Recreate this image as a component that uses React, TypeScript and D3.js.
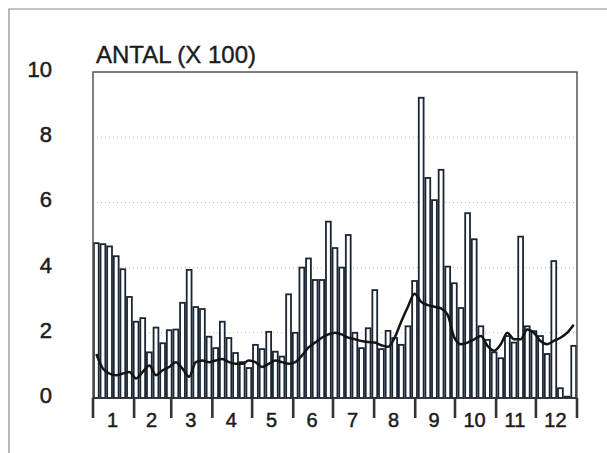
import { useEffect, useRef } from "react"
import * as d3 from "d3"

// five-day periods, 73 per year (ANTAL x 100)
const periodValues = [
  4.75, 4.72, 4.65, 4.35, 3.95, 3.1,
  2.34, 2.45, 1.4, 2.16, 1.68, 2.08,
  2.1, 2.92, 3.93, 2.79, 2.73, 1.88,
  1.53, 2.34, 1.84, 1.38, 1.1, 0.92,
  1.63, 1.5, 2.03, 1.42, 1.27, 3.18,
  2.0, 4.0, 4.28, 3.62, 3.62, 5.41,
  4.6, 4.0, 5.0, 2.0, 1.53, 2.14,
  3.31, 1.5, 2.06, 1.84, 1.63, 2.2,
  3.59, 9.21, 6.75, 6.07, 7.0, 4.03,
  3.52, 2.76, 5.67, 4.87, 2.2, 1.78,
  1.4, 1.22, 1.9, 1.7, 4.95, 2.2,
  2.05, 1.9, 1.35, 4.2, 0.3, 0.04,
  1.6,
]

// smoothed line
const averageValues = [
  1.35, 0.9, 0.75, 0.7, 0.75, 0.8,
  0.6, 0.8, 1.0, 0.7, 0.85, 0.95,
  1.1, 0.9, 0.65, 1.1, 1.15, 1.1,
  1.15, 1.2, 1.1, 1.05, 1.05, 1.15,
  1.1, 0.95, 1.05, 1.15, 1.1, 1.05,
  1.1, 1.3, 1.55, 1.7, 1.85, 1.95,
  2.0, 1.95, 1.85, 1.8, 1.75, 1.72,
  1.7, 1.62, 1.57, 1.85, 2.35, 2.8,
  3.2, 2.95, 2.85, 2.8, 2.75, 2.55,
  1.85, 1.65, 1.7, 1.8, 1.9, 1.6,
  1.45, 1.65, 2.0, 1.8, 1.8, 2.1,
  2.0, 1.75, 1.65, 1.75, 1.85, 2.0,
  2.25,
]

const monthLabels = ["1", "2", "3", "4", "5", "6", "7", "8", "9", "10", "11", "12"]
const monthStartDays = [0, 31, 59, 90, 120, 151, 181, 212, 243, 273, 304, 334, 365]
const yTicks = [0, 2, 4, 6, 8, 10]
const gridTicks = [2, 4, 6, 8]
const title = "ANTAL (X 100)"

const W = 607
const H = 453

const App = () => {
  const ref = useRef(null)

  useEffect(() => {
    const svg = d3.select(ref.current)
    svg.selectAll("*").remove()

    const left = 93, right = 577, top = 72, bottom = 398
    const x = d3.scaleLinear().domain([0, 365]).range([left, right])
    const y = d3.scaleLinear().domain([0, 10]).range([bottom, top])
    const font = "'Liberation Sans', Arial, Helvetica, sans-serif"
    const ink = "#1a2634"
    const textInk = "#1c1c1c"

    svg.append("rect").attr("width", W).attr("height", H).attr("fill", "#fff")

    // outer frame of the scanned page
    svg.append("path")
      .attr("d", `M9,${H} L9,9 L${W},9`)
      .attr("fill", "none").attr("stroke", "#8a8a8a").attr("stroke-width", 1.2)

    // grid
    svg.append("g").selectAll("line").data(gridTicks).join("line")
      .attr("x1", left).attr("x2", right)
      .attr("y1", d => y(d)).attr("y2", d => y(d))
      .attr("stroke", "#b8b8b8").attr("stroke-width", 1).attr("stroke-dasharray", "1,3")

    // bars
    const pad = 0.9
    svg.append("g").selectAll("rect").data(periodValues).join("rect")
      .attr("x", (d, i) => x(i * 5) + pad)
      .attr("y", d => y(d))
      .attr("width", (d, i) => x((i + 1) * 5) - x(i * 5) - pad * 2)
      .attr("height", d => y(0) - y(d))
      .attr("fill", "#fff")
      .attr("stroke", ink)
      .attr("stroke-width", 1.8)

    // average line
    const line = d3.line<number>()
      .x((d, i) => x(i * 5 + 2.5))
      .y(d => y(d))
      .curve(d3.curveMonotoneX)
    svg.append("path")
      .attr("d", line(averageValues))
      .attr("fill", "none")
      .attr("stroke", "#141414")
      .attr("stroke-width", 2.5)

    // plot frame
    svg.append("path")
      .attr("d", `M${left},${bottom} L${left},${top} L${right},${top} L${right},${bottom}`)
      .attr("fill", "none").attr("stroke", "#555").attr("stroke-width", 1.5)
    svg.append("line")
      .attr("x1", left).attr("x2", right).attr("y1", bottom).attr("y2", bottom)
      .attr("stroke", "#333").attr("stroke-width", 1.5)

    // month ticks
    svg.append("g").selectAll("line").data(monthStartDays).join("line")
      .attr("x1", d => x(d)).attr("x2", d => x(d))
      .attr("y1", bottom).attr("y2", bottom + 20)
      .attr("stroke", "#333").attr("stroke-width", 2.6)

    svg.append("g").selectAll("text").data(monthLabels).join("text")
      .attr("x", (d, i) => (x(monthStartDays[i]) + x(monthStartDays[i + 1])) / 2 - 1)
      .attr("y", bottom + 29)
      .attr("text-anchor", "middle")
      .attr("font-family", font).attr("font-size", 20)
      .attr("fill", textInk).attr("stroke", textInk).attr("stroke-width", 0.5)
      .text(d => d)

    // y labels
    svg.append("g").selectAll("text").data(yTicks).join("text")
      .attr("x", 52)
      .attr("y", d => y(d) + 5)
      .attr("text-anchor", "end")
      .attr("font-family", font).attr("font-size", 22)
      .attr("fill", textInk).attr("stroke", textInk).attr("stroke-width", 0.5)
      .text(d => d)

    svg.append("text")
      .attr("x", 96).attr("y", 63)
      .attr("font-family", font).attr("font-size", 24)
      .attr("fill", textInk).attr("stroke", textInk).attr("stroke-width", 0.4)
      .text(title)
  }, [])

  return (
    <svg ref={ref} width={W} height={H} style={{ position: "absolute", left: 0, top: 0 }} />
  )
}

export default App
